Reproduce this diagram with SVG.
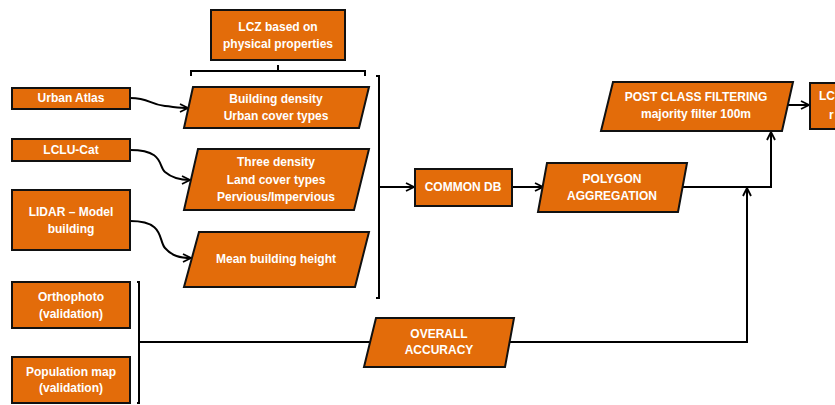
<svg xmlns="http://www.w3.org/2000/svg" width="835" height="405" viewBox="0 0 835 405">
<defs>
<marker id="ah" viewBox="0 0 10 10" refX="9" refY="5" markerWidth="10" markerHeight="10" markerUnits="userSpaceOnUse" orient="auto">
<path d="M1,1 L9,5 L1,9" fill="none" stroke="#000" stroke-width="1.8"/>
</marker>
<style>
.n{fill:#E36C0A;stroke:#111;stroke-width:2}
.t{font-family:"Liberation Sans",Arial,sans-serif;font-weight:bold;font-size:12px;fill:#fff;text-anchor:middle}
.c{fill:none;stroke:#000;stroke-width:2}
.a{fill:none;stroke:#000;stroke-width:2;marker-end:url(#ah)}
</style>
</defs>
<rect width="835" height="405" fill="#fff"/>

<g id="connectors">
<path class="c" d="M191,76 V71 H365 V76 M278,71 V65"/>
<path class="c" d="M376,76 H379 V298 H376"/>
<path class="c" d="M137,282 H139 V403 H137"/>
<path class="a" d="M130,98 C150,98 148,104 165,106 C175,107 180,108 188,108"/>
<path class="a" d="M130,150 C165,150 158,167 165,172 C172,178 180,180 190,180"/>
<path class="a" d="M130,221 C165,221 158,240 165,248 C172,256 180,258 191,258"/>
<path class="a" d="M379,187 H414"/>
<path class="a" d="M512,187 H543"/>
<path class="a" d="M681,187 H771 V132"/>
<path class="c" d="M139,342 H370"/>
<path class="a" d="M509,342 H747 V188"/>
<path class="a" d="M787,105 H809"/>
</g>

<g id="lcz-physical"><rect class="n" x="211" y="10" width="134" height="50"/><text class="t" x="278" y="31">LCZ based on</text><text class="t" x="278" y="48">physical properties</text></g>
<g id="urban-atlas"><rect class="n" x="12" y="88" width="118" height="21"/><text class="t" x="71" y="102">Urban Atlas</text></g>
<g id="lclu-cat"><rect class="n" x="12" y="139" width="118" height="22"/><text class="t" x="71" y="154">LCLU-Cat</text></g>
<g id="lidar"><rect class="n" x="12" y="190" width="118" height="60"/><text class="t" x="71" y="216">LIDAR – Model</text><text class="t" x="71" y="233">building</text></g>
<g id="orthophoto"><rect class="n" x="12" y="282" width="118" height="46"/><text class="t" x="71" y="301">Orthophoto</text><text class="t" x="71" y="318">(validation)</text></g>
<g id="population"><rect class="n" x="12" y="357" width="118" height="46"/><text class="t" x="71" y="376">Population map</text><text class="t" x="71" y="392">(validation)</text></g>

<g id="building-density"><polygon class="n" points="193,87 369,87 359,128 184,128"/><text class="t" x="276" y="103">Building density</text><text class="t" x="276" y="120">Urban cover types</text></g>
<g id="three-density"><polygon class="n" points="198,149 369,149 354,210 184,210"/><text class="t" x="276" y="166">Three density</text><text class="t" x="276" y="184">Land cover types</text><text class="t" x="276" y="201">Pervious/Impervious</text></g>
<g id="mean-height"><polygon class="n" points="199,232 369,232 355,287 184,287"/><text class="t" x="276" y="263">Mean building height</text></g>

<g id="common-db"><rect class="n" x="415" y="169" width="97" height="37"/><text class="t" x="463" y="191">COMMON DB</text></g>
<g id="polygon-aggregation"><polygon class="n" points="547,163 687,163 678,212 538,212"/><text class="t" x="612" y="183">POLYGON</text><text class="t" x="612" y="200">AGGREGATION</text></g>
<g id="post-class"><polygon class="n" points="613,82 793,82 782,131 601,131"/><text class="t" x="696" y="101">POST CLASS FILTERING</text><text class="t" x="696" y="118">majority filter 100m</text></g>
<g id="lcz-map"><rect class="n" x="810" y="83" width="60" height="46"/><text class="t" x="819" y="100" style="text-anchor:start">LC</text><text class="t" x="829" y="119" style="text-anchor:start">r</text></g>
<g id="overall-accuracy"><polygon class="n" points="376,318 514,318 505,367 364,367"/><text class="t" x="439" y="338">OVERALL</text><text class="t" x="439" y="354">ACCURACY</text></g>
</svg>
